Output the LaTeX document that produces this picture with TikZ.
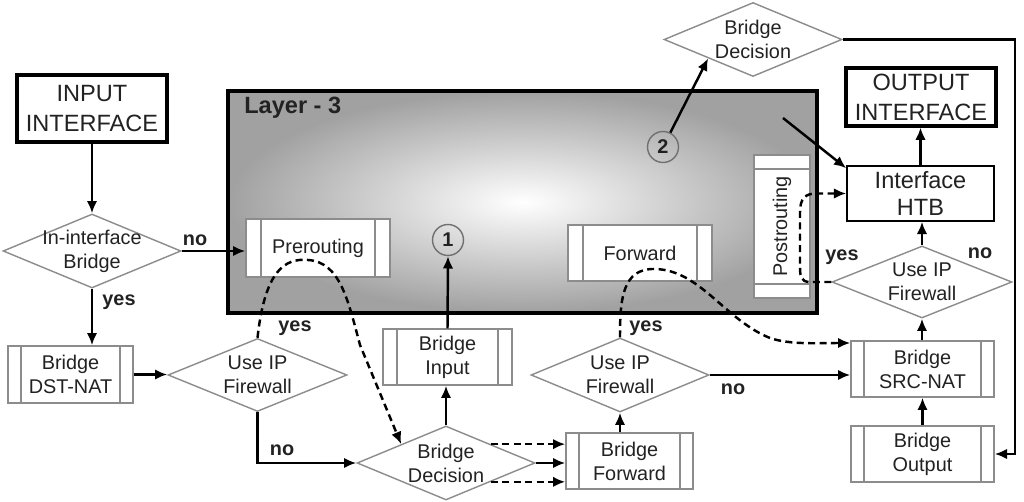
\documentclass[tikz,border=0pt]{standalone}
\usepackage{fontspec}
\setmainfont{Liberation Sans}
\usetikzlibrary{shapes.geometric,arrows.meta,calc}
\definecolor{gboxc}{HTML}{8C8C8C}
\definecolor{txtc}{HTML}{222222}
\tikzset{
  base/.style={font=\fontsize{11.3}{13.6}\selectfont, text=txtc, align=center},
  proc/.style={base, draw=gboxc, fill=white, line width=0.8pt, inner sep=0pt},
  bars/.style={path picture={\draw[gboxc, line width=0.8pt]
     ([xshift=#1]path picture bounding box.north west) -- ([xshift=#1]path picture bounding box.south west)
     ([xshift=-#1]path picture bounding box.north east) -- ([xshift=-#1]path picture bounding box.south east);}},
  bars/.default=0.28cm,
  hbars/.style={path picture={\draw[gboxc, line width=0.8pt]
     ([yshift=-#1]path picture bounding box.north west) -- ([yshift=-#1]path picture bounding box.north east)
     ([yshift=#1]path picture bounding box.south west) -- ([yshift=#1]path picture bounding box.south east);}},
  hbars/.default=0.28cm,
  dia/.style={diamond, draw=gboxc, fill=white, line width=0.8pt, inner sep=0pt, minimum width=3.56cm, minimum height=1.48cm},
  dtext/.style={base, inner sep=0pt},
  io/.style={draw=black, line width=1.8pt, fill=white, text=txtc, font=\fontsize{13.4}{17}\selectfont, align=center, inner sep=0pt, minimum width=3cm},
  lab/.style={font=\bfseries\fontsize{11.3}{13.6}\selectfont, text=txtc, inner sep=0pt},
  arr/.style={draw=black, line width=1.4pt, -{Latex[length=7pt,width=6pt]}},
  darr/.style={arr, dash pattern=on 4pt off 2.5pt},
  num/.style={circle, draw=gboxc!80!black, line width=0.8pt, minimum size=0.62cm, inner sep=0pt, text=txtc, font=\bfseries\fontsize{11.3}{13.6}\selectfont},
}
\begin{document}
\begin{tikzpicture}[x=0.02cm,y=-0.02cm]
\useasboundingbox[fill=white] (0,0) rectangle (1024,502);
% Layer 3 container
\node[draw=black, line width=1.8pt, inner color=white, outer color=black!37, minimum width=11.78cm, minimum height=4.44cm, inner sep=0pt] (L3) at (522.5,202) {};
\node[lab, font=\bfseries\fontsize{13.4}{16}\selectfont, anchor=west] (L3t) at (244,108) {Layer - 3};

% interfaces
\node[io, minimum height=1.34cm] (in) at (92,108.5) {INPUT\\INTERFACE};
\node[io, minimum height=1.16cm] (out) at (921,97) {OUTPUT\\INTERFACE};
\node[draw=black, line width=0.9pt, fill=white, text=txtc, align=center, font=\fontsize{13.4}{15}\selectfont, minimum width=2.94cm, minimum height=1.1cm, inner sep=0pt] (htb) at (920.5,193.5) {Interface\\HTB};

% diamonds
\node[dia] (d1) at (92,251) {};
\node[dtext] (d1t) at (d1) {In-interface\\Bridge};
\node[dia, minimum width=3.58cm, minimum height=1.46cm] (u1) at (257.5,375) {};
\node[dtext] (u1t) at (u1) {Use IP\\Firewall};
\node[dia] (bd) at (446,463) {};
\node[dtext] (bdt) at (bd) {Bridge\\Decision};
\node[dia] (u2) at (620,375) {};
\node[dtext] (u2t) at (u2) {Use IP\\Firewall};
\node[dia, minimum width=3.6cm, minimum height=1.44cm] (u3) at (922,282) {};
\node[dtext] (u3t) at (u3) {Use IP\\Firewall};
\node[dia] (bt) at (753,39.5) {};
\node[dtext] (btt) at (bt) {Bridge\\Decision};

% process boxes
\node[proc, bars=0.26cm, minimum width=2.5cm, minimum height=1.14cm] (dst) at (70.5,374.5) {Bridge\\DST-NAT};
\node[proc, bars=0.3cm, minimum width=2.88cm, minimum height=1.16cm] (pre) at (318,248) {Prerouting};
\node[proc, bars, minimum width=2.58cm, minimum height=1.12cm] (bin) at (447.5,357) {Bridge\\Input};
\node[proc, bars=0.3cm, minimum width=2.88cm, minimum height=1.12cm] (fwd) at (640,253) {Forward};
\node[proc, bars=0.26cm, minimum width=2.54cm, minimum height=1.12cm] (bf) at (629.5,461) {Bridge\\Forward};
\node[proc, bars=0.26cm, minimum width=2.86cm, minimum height=1.12cm] (src) at (922.5,369) {Bridge\\SRC-NAT};
\node[proc, bars=0.26cm, minimum width=2.86cm, minimum height=1.12cm] (bo) at (922.5,454) {Bridge\\Output};
\node[proc, hbars, minimum width=1.12cm, minimum height=2.86cm] (post) at (782,226.5) {\rotatebox{90}{Postrouting}};

% numbered circles
\node[num] (c1) at (448,240) {1};
\node[num] (c2) at (663,147) {2};

% coordinates for free ends
\coordinate (rc) at (1015,454);
\coordinate (s3) at (783,118);

% solid connectors
\draw[arr] (in.south) -- (in.south |- d1.north);
\draw[arr] (d1.east) -- (d1.east -| pre.west);
\draw[arr] (d1.south) -- (d1.south |- dst.north);
\draw[arr] (dst.east) -- (dst.east -| u1.west);
\draw[arr] (u1.south) |- (bd.west);
\draw[arr] (bd.north) -- (bd.north |- bin.south);
\draw[arr] (bin.north) -- (c1.south);
\draw[arr] (bd.east) -- (bd.east -| bf.west);
\draw[arr] (u2.south |- bf.north) -- (u2.south);
\draw[arr] (u2.east) -- (u2.east -| src.west);
\draw[arr] (c2) -- (bt.south west);
\draw[arr] (bt.east) -| (rc) -- (bo.east);
\draw[arr] (s3) -- ([yshift=-0.06cm]htb.north west);
\draw[arr] (htb.north) -- (htb.north |- out.south);
\draw[arr] (u3.north) -- (u3.north |- htb.south);
\draw[arr] (u3.south |- src.north) -- (u3.south);
\draw[arr] (bo.north) -- (src.south);

% dashed connectors
\draw[darr] (bd.north east) -- (bd.north east -| bf.west);
\draw[darr] (bd.south east) -- (bd.south east -| bf.west);
\draw[darr] (u1.north) .. controls (265,270) and (285,258) .. (308,260)
  .. controls (340,262) and (348,300) .. (360,345) -- (bd.north west);
\draw[darr] (u2.north) .. controls (620,300) and (622,268) .. (655,269)
  .. controls (700,270) and (725,320) .. (770,338)
  .. controls (790,345) and (820,343) .. ([yshift=0.52cm]src.west);
\draw[darr] (u3.west) -- (810,282) .. controls (800,282) and (800,275) .. (800,265)
  -- (800,212) .. controls (800,198) and (806,193.5) .. (816,193.5) -- (htb.west);

% labels
\node[lab] (no1) at (195,240) {no};
\node[lab] (yes1) at (119,302) {yes};
\node[lab] (yes2) at (295,328) {yes};
\node[lab] (no2) at (282,450) {no};
\node[lab] (yes3) at (646,328) {yes};
\node[lab] (no3) at (733,389) {no};
\node[lab] (yes4) at (842,257) {yes};
\node[lab] (no4) at (980,253) {no};
\end{tikzpicture}
\end{document}
